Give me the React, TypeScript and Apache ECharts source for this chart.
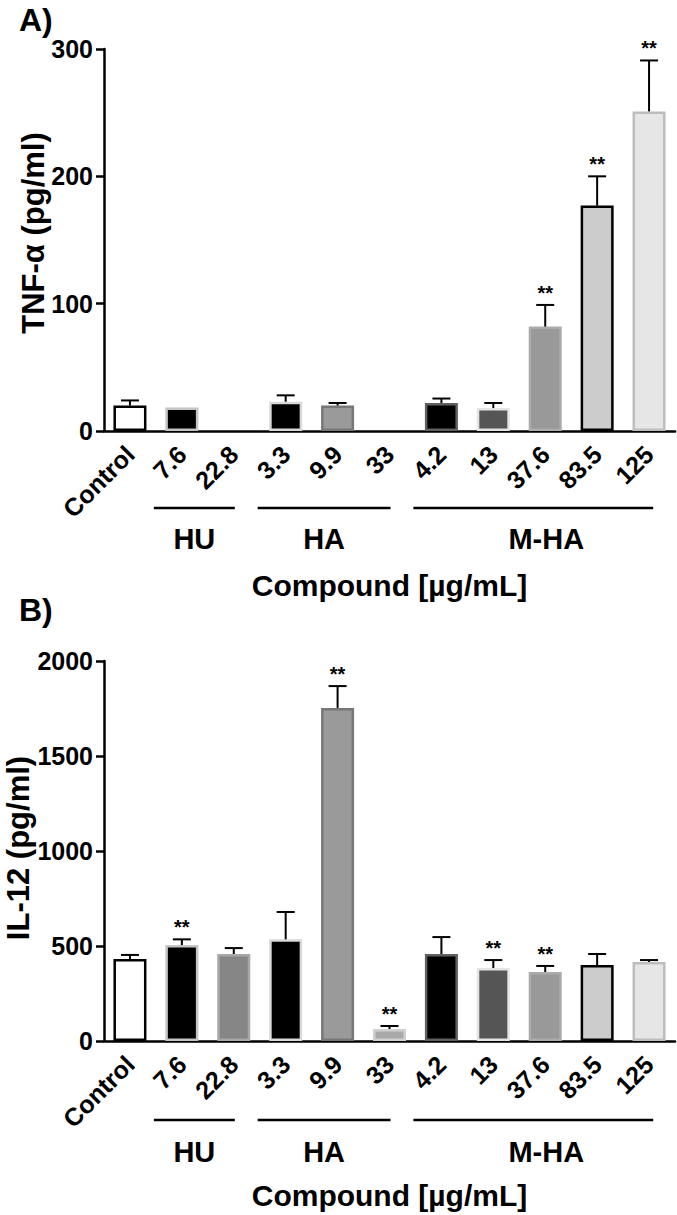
import React, { useEffect, useRef } from "react";
import * as echarts from "echarts";

const categories = ["Control", "7.6", "22.8", "3.3", "9.9", "33", "4.2", "13", "37.6", "83.5", "125"];

const tnfMeans = [20, 18.5, 0, 23, 20, 0, 22, 18, 82, 177, 251];
const tnfErrors = [4, 0, 0, 5, 2, 0, 3.5, 4, 17, 23, 40];
const tnfStars = [0, 0, 0, 0, 0, 0, 0, 0, 1, 1, 1];

const il12Means = [431, 505, 458, 535, 1753, 63, 458, 384, 363, 400, 416];
const il12Errors = [22, 30, 31, 144, 115, 16, 89, 42, 32, 58, 10];
const il12Stars = [0, 1, 0, 0, 1, 1, 0, 1, 1, 0, 0];

const tnfTicks = { min: 0, max: 300, interval: 100 };
const il12Ticks = { min: 0, max: 2000, interval: 500 };

const groupNames = ["HU", "HA", "M-HA"];
const groupFrom = [1, 3, 6];
const groupTo = [2, 5, 10];

const fills = ["#ffffff", "#000000", "#868686", "#000000", "#9a9a9a", "#aaaaaa", "#000000", "#555555", "#999999", "#cccccc", "#e6e6e6"];
const borders = ["#000000", "#c4c4c4", "#a8a8a8", "#d9d9d9", "#777777", "#d0d0d0", "#606060", "#e4e4e4", "#ababab", "#000000", "#bdbdbd"];

const FONT = '"Liberation Sans", Arial, Helvetica, sans-serif';

function barData(means: number[]) {
  return means.map((m, i) => ({
    value: m,
    itemStyle: {
      color: fills[i],
      borderColor: borders[i],
      borderWidth: m > 0 ? 2.5 : 0,
    },
  }));
}

function errData(means: number[], errs: number[], stars: number[]) {
  return means.map((m, i) => [i, m, errs[i], stars[i]]);
}

function renderErr(_params: any, api: any) {
  const i = api.value(0);
  const m = api.value(1);
  const e = api.value(2);
  const s = api.value(3);
  const base = api.coord([i, m]);
  const top = api.coord([i, m + e]);
  const children: any[] = [];
  if (e > 0) {
    children.push({
      type: "line",
      shape: { x1: base[0], y1: base[1], x2: top[0], y2: top[1] },
      style: { stroke: "#000", lineWidth: 2 },
    });
    children.push({
      type: "line",
      shape: { x1: top[0] - 9, y1: top[1], x2: top[0] + 9, y2: top[1] },
      style: { stroke: "#000", lineWidth: 2 },
    });
  }
  if (s) {
    children.push({
      type: "text",
      style: {
        text: "**",
        x: top[0],
        y: top[1] - 2,
        align: "center",
        verticalAlign: "bottom",
        font: `bold 20px ${FONT}`,
        fill: "#000",
      },
    });
  }
  return { type: "group", children };
}

const axisLineStyle = { color: "#000", width: 2.5 };

function makeX(gridIndex: number) {
  return {
    type: "category",
    gridIndex,
    data: categories,
    axisLine: { lineStyle: axisLineStyle },
    axisTick: { alignWithLabel: true, length: 7, lineStyle: axisLineStyle },
    axisLabel: {
      rotate: 45,
      fontSize: 25,
      fontWeight: "bold",
      fontFamily: FONT,
      color: "#000",
      margin: 19,
      interval: 0,
    },
  };
}

function makeY(gridIndex: number, t: { min: number; max: number; interval: number }) {
  return {
    type: "value",
    gridIndex,
    min: t.min,
    max: t.max,
    interval: t.interval,
    axisLine: { show: true, lineStyle: axisLineStyle },
    axisTick: { show: true, length: 8, lineStyle: axisLineStyle },
    axisLabel: {
      fontSize: 25,
      fontWeight: "bold",
      fontFamily: FONT,
      color: "#000",
      margin: 11,
      formatter: (v: number) => String(v),
    },
    splitLine: { show: false },
  };
}

export default function App() {
  const ref = useRef<HTMLDivElement>(null);

  useEffect(() => {
    if (!ref.current) return;
    const chart = echarts.init(ref.current, null, { renderer: "svg" });
    const option: any = {
      animation: false,
      backgroundColor: "#ffffff",
      grid: [
        { left: 104, right: 2, top: 49, height: 382 },
        { left: 104, right: 2, top: 661, height: 380 },
      ],
      xAxis: [makeX(0), makeX(1)],
      yAxis: [makeY(0, tnfTicks), makeY(1, il12Ticks)],
      series: [
        {
          type: "bar",
          xAxisIndex: 0,
          yAxisIndex: 0,
          barWidth: 33,
          data: barData(tnfMeans),
        },
        {
          type: "custom",
          xAxisIndex: 0,
          yAxisIndex: 0,
          z: 5,
          renderItem: renderErr,
          data: errData(tnfMeans, tnfErrors, tnfStars),
        },
        {
          type: "bar",
          xAxisIndex: 1,
          yAxisIndex: 1,
          barWidth: 33,
          data: barData(il12Means),
        },
        {
          type: "custom",
          xAxisIndex: 1,
          yAxisIndex: 1,
          z: 5,
          renderItem: renderErr,
          data: errData(il12Means, il12Errors, il12Stars),
        },
      ],
    };
    chart.setOption(option);

    const graphics: any[] = [];
    const bold = (size: number) => `bold ${size}px ${FONT}`;
    graphics.push({ type: "text", style: { text: "A)", x: 19, y: 20, verticalAlign: "middle", font: bold(32), fill: "#000" } });
    graphics.push({ type: "text", style: { text: "B)", x: 19, y: 610, verticalAlign: "middle", font: bold(32), fill: "#000" } });
    graphics.push({
      type: "text",
      x: 33,
      y: 233,
      rotation: Math.PI / 2,
      style: { text: "TNF-α (pg/ml)", x: 0, y: 0, align: "center", verticalAlign: "middle", font: bold(31), fill: "#000" },
    });
    graphics.push({
      type: "text",
      x: 18,
      y: 848,
      rotation: Math.PI / 2,
      style: { text: "IL-12 (pg/ml)", x: 0, y: 0, align: "center", verticalAlign: "middle", font: bold(31), fill: "#000" },
    });

    const layouts = [
      { xi: 0, lineY: 508, labelY: 539, titleY: 585 },
      { xi: 1, lineY: 1120, labelY: 1152, titleY: 1195 },
    ];
    const labelShift = [0.24, 0.73, 0.02];
    const endShift = [0.02, 0.02, 0.08];
    layouts.forEach((L) => {
      const c0 = chart.convertToPixel({ xAxisIndex: L.xi } as any, 0) as number;
      const c1 = chart.convertToPixel({ xAxisIndex: L.xi } as any, 1) as number;
      const band = c1 - c0;
      const center = (i: number) => c0 + band * i;
      groupNames.forEach((g, k) => {
        const x1 = center(groupFrom[k]) - 0.54 * band;
        const x2 = center(groupTo[k]) + endShift[k] * band;
        graphics.push({
          type: "line",
          shape: { x1, y1: L.lineY, x2, y2: L.lineY },
          style: { stroke: "#000", lineWidth: 2.5 },
        });
        const lx = k < 2 ? (x1 + x2) / 2 : center(8) + labelShift[k] * band;
        graphics.push({
          type: "text",
          style: { text: g, x: lx, y: L.labelY, align: "center", verticalAlign: "middle", font: bold(29), fill: "#000" },
        });
      });
      const left = center(0) - band / 2;
      const right = center(10) + band / 2;
      graphics.push({
        type: "text",
        style: {
          text: "Compound [µg/mL]",
          x: (left + right) / 2,
          y: L.titleY,
          align: "center",
          verticalAlign: "middle",
          font: bold(30),
          fill: "#000",
        },
      });
    });

    chart.setOption({ graphic: graphics });

    return () => chart.dispose();
  }, []);

  return (
    <div
      ref={ref}
      style={{ position: "absolute", left: 0, top: 0, width: 677, height: 1215, background: "#fff" }}
    />
  );
}
